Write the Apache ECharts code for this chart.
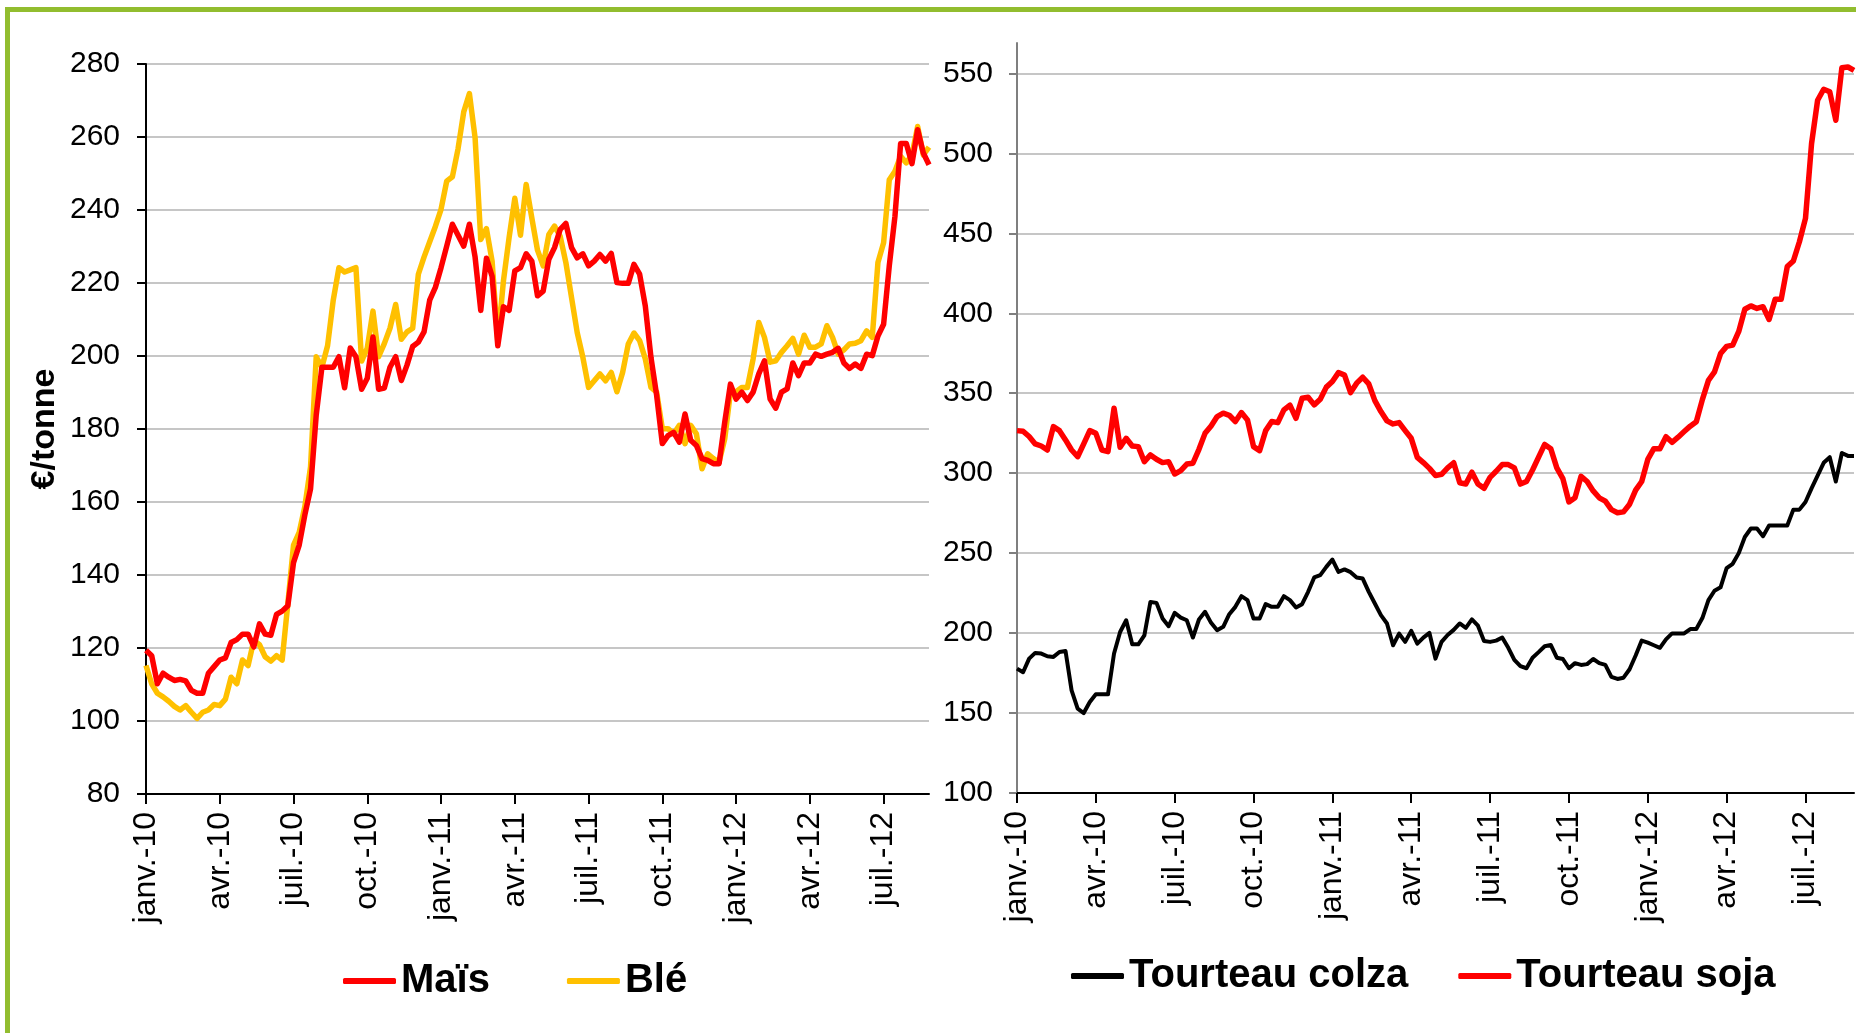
<!DOCTYPE html>
<html>
<head>
<meta charset="utf-8">
<script src="https://cdn.jsdelivr.net/npm/echarts@6/dist/echarts.min.js"></script>
<style>
  html, body { margin: 0; padding: 0; background: #fff; }
  #frame { position: absolute; left: 5px; top: 7px; width: 1900px; height: 1100px;
           border-top: 5px solid #92bd2f; border-left: 5px solid #92bd2f; }
  #main { position: absolute; left: 0; top: 0; width: 1856px; height: 1033px; }
</style>
</head>
<body>
<div id="frame"></div>
<div id="main"></div>
<script>
// libellés trimestriels de l'axe des dates (un tous les 13 points hebdo)
var quarterLabels = ['janv.-10', 'avr.-10', 'juil.-10', 'oct.-10',
                     'janv.-11', 'avr.-11', 'juil.-11', 'oct.-11',
                     'janv.-12', 'avr.-12', 'juil.-12'];

// prix hebdomadaires en €/tonne, janv. 2010 -> août 2012
var mais = [
  119.4, 117.9, 110.2, 113.1, 112, 111.1, 111.4, 111, 108.4, 107.6,
  107.6, 113.1, 114.9, 116.7, 117.3, 121.5, 122.3, 123.8, 123.8, 120.3,
  126.6, 123.8, 123.5, 129.2, 130.1, 131.6, 143.4, 148.2, 156.5, 163.6,
  183.8, 196.9, 196.9, 196.9, 199.8, 191.3, 202.2, 199.8, 190.9, 193.9,
  205.2, 190.9, 191.2, 196.9, 199.8, 193.3, 197.5, 202.6, 203.8, 206.6,
  215.3, 218.8, 224.2, 230.1, 236.1, 233.1, 230.1, 236.1, 227.1, 212.5,
  226.8, 221.8, 202.8, 213.5, 212.5, 223.3, 224.2, 228, 226, 216.5,
  217.8, 226.5, 229.7, 234.7, 236.3, 229.7, 226.9, 228, 224.7, 226,
  227.8, 226, 228.1, 220.1, 219.9, 219.9, 225.1, 222.4, 213.7, 199.6,
  189.2, 176, 178.2, 179.1, 176.4, 184.1, 176.9, 175.5, 171.9, 171.4,
  170.5, 170.5, 181.9, 192.3, 188.2, 190.1, 187.8, 190.1, 195.1, 198.7,
  188.2, 185.7, 190.1, 191, 198.1, 194.6, 198.1, 198.1, 200.5, 199.9,
  200.5, 201, 202.1, 198.1, 196.6, 197.8, 196.6, 200.5, 200.1, 205.5,
  208.7, 224.7, 238.3, 258.2, 258.2, 252.7, 262, 255.6, 252.4
];
var ble = [
  115.2, 110.2, 107.6, 106.6, 105.4, 104, 103, 104.2, 102.4, 100.7,
  102.4, 103, 104.5, 104.2, 106, 112, 110.2, 116.7, 115.2, 122.1,
  120.9, 117.6, 116.4, 117.9, 116.7, 132.2, 148.2, 151.7, 158.8, 169.6,
  199.8, 196.9, 202.8, 215.3, 224.2, 223, 223.6, 224.2, 198.6, 202.2,
  212.3, 199.8, 203.4, 207.6, 214.1, 204.6, 206.6, 207.6, 222.4, 227.1,
  231.3, 235.5, 240.2, 247.9, 249.1, 256.8, 266.9, 271.9, 259.8, 231.9,
  234.9, 226, 204, 220.6, 232.5, 243.2, 233.1, 247, 237.8, 229,
  224.7, 233.3, 235.6, 232.8, 225.6, 216, 206.4, 199.6, 191.4, 193.2,
  195.1, 193.2, 195.5, 190.2, 195.5, 203.3, 206.3, 204.2, 199.2, 191.4,
  190.1, 180.1, 180.1, 178.7, 181, 176, 181, 178.7, 169.1, 173.2,
  171.9, 170.9, 177.3, 190.1, 190.2, 191.4, 191.4, 199.2, 209.2, 205.1,
  198.3, 198.7, 201, 202.8, 204.8, 200.5, 205.7, 202.4, 202.4, 203.3,
  208.3, 205.1, 200.5, 201.7, 203.3, 203.5, 204.2, 206.9, 205.1, 225.6,
  231, 248.3, 250.6, 254.7, 252.9, 255.1, 262.9, 255.1, 257.2
];
var colza = [
  177.8, 175.5, 184, 187.6, 187.2, 185.5, 185.1, 188.2, 188.8, 164.2,
  152.7, 150, 156.9, 161.7, 161.7, 161.7, 187.2, 200.7, 208, 193,
  193, 198.6, 219.5, 218.9, 209.1, 204.3, 212.6, 209.7, 208, 197.2,
  208.5, 213.3, 206.4, 201.8, 203.9, 211.8, 216.4, 223.1, 220.6, 209.1,
  209.1, 218.1, 216.4, 216.4, 223.1, 220.6, 216, 218.1, 225.8, 234.8,
  236.2, 241.4, 246, 238.3, 239.8, 238.1, 234.8, 234.1, 225.8, 218.5,
  211.2, 206, 192.4, 199.7, 194.5, 201.4, 193.4, 197.2, 200.1, 184,
  194.5, 198.8, 202, 206, 203.3, 208.6, 204.6, 195, 194.5, 195.3,
  197.2, 190.8, 183.3, 179.3, 178, 184.6, 188.1, 191.8, 192.6, 184.6,
  183.8, 178, 181.2, 180.1, 180.6, 183.8, 181.2, 180.1, 172.6, 171.3,
  172.1, 177.4, 186, 195.3, 194, 192.4, 190.8, 196.1, 199.8, 199.8,
  199.8, 202.5, 202.5, 209.4, 220.6, 226.5, 228.6, 240.6, 243.3, 250,
  260.1, 265.4, 265.4, 260.6, 267.3, 267.3, 267.3, 267.3, 277.2, 277.2,
  282, 290.5, 298.5, 306.5, 310, 294.8, 312.6, 310.8, 310.8
];
var soja = [
  326.6, 326.2, 322.9, 318.3, 317, 314.5, 329.1, 326.6, 320.8, 314.5,
  310.3, 318.3, 326.6, 324.9, 314.5, 313.5, 340.6, 316.2, 321.8, 317,
  316.6, 307.2, 311.4, 308.7, 306.6, 307.2, 299.5, 301.6, 305.7, 306.2,
  314.9, 324.9, 329.5, 335.4, 337.5, 336.2, 332.3, 337.9, 333.3, 316.6,
  314.1, 326.6, 332.3, 331.6, 339.6, 342.5, 334.3, 346.9, 347.5, 342.7,
  346.2, 353.8, 357.3, 362.9, 361.3, 350.4, 356.3, 360, 355.8, 345.4,
  338.5, 332.7, 330.8, 331.6, 326.6, 321.8, 309.9, 306.6, 303, 298.5,
  299.3, 303.3, 306.5, 294, 293.2, 300.6, 293.2, 290.5, 297.4, 301.2,
  305.4, 305.4, 303.3, 293.2, 294.8, 302, 310, 318, 315.3, 303.3,
  296.6, 282, 284.6, 298, 294.8, 288.9, 284.6, 282.5, 277.2, 275.3,
  275.8, 280.6, 289.4, 294.8, 308.6, 315.3, 315.3, 322.8, 319.3, 322.5,
  326, 329.4, 332.1, 346, 358, 363.3, 374.8, 379.3, 380.1, 388.6,
  402.5, 404.6, 403, 404.1, 396.1, 408.7, 408.7, 429.2, 432.7, 444.7,
  459.3, 506, 533.2, 540.1, 538.5, 520.7, 553.5, 554, 551.9
];

// graduations de l'axe des tourteaux
var tourteauTicks = [100, 150, 200, 250, 300, 350, 400, 450, 500, 550];

// une date par semaine (lundi), même longueur que les séries
var weeks = [];
var d0 = new Date(2010, 0, 4);
for (var i = 0; i < mais.length; i++) {
    var d = new Date(d0.getTime() + i * 7 * 86400000);
    weeks.push(d.getFullYear() + '-' + (d.getMonth() + 1) + '-' + d.getDate());
}

var myChart = echarts.init(document.getElementById('main'), null, {renderer: 'canvas'});

var FONT = "'Liberation Sans', Arial, sans-serif";

function isQuarter(index) {
    return index % 13 === 0;
}

function dateAxis(gridIndex) {
    return {
        type: 'category',
        gridIndex: gridIndex,
        boundaryGap: false,
        data: weeks,
        axisLine: {lineStyle: {color: '#000', width: 2}},
        axisTick: {show: true, interval: isQuarter, length: 10, lineStyle: {color: '#000', width: 2}},
        axisLabel: {
            interval: isQuarter,
            rotate: 90,
            margin: 18,
            color: '#000',
            fontFamily: FONT,
            fontSize: 32,
            formatter: function (value, index) {
                return quarterLabels[index / 13] || '';
            }
        },
        splitLine: {show: false}
    };
}

function legendBox(names, left, top, gap) {
    return {
        data: names,
        left: left,
        top: top,
        icon: 'roundRect',
        itemWidth: 53,
        itemHeight: 6,
        itemGap: gap,
        textStyle: {fontFamily: FONT, fontWeight: 'bold', fontSize: 40, color: '#000'}
    };
}

function getOption() {
    var option = {
        animation: false,
        grid: [
            {left: 146, top: 64, width: 783, height: 730},
            {left: 1017, top: 43, width: 837, height: 750}
        ],
        xAxis: [dateAxis(0), dateAxis(1)],
        yAxis: [
            {
                type: 'value',
                gridIndex: 0,
                min: 80,
                max: 280,
                interval: 20,
                name: '€/tonne',
                nameLocation: 'middle',
                nameRotate: 90,
                nameGap: 84,
                nameTextStyle: {fontFamily: FONT, fontWeight: 'bold', fontSize: 34, color: '#000'},
                axisLine: {show: true, lineStyle: {color: '#000', width: 2}},
                axisTick: {show: true, length: 9, lineStyle: {color: '#000', width: 2}},
                axisLabel: {margin: 26, color: '#000', fontFamily: FONT, fontSize: 30},
                splitLine: {lineStyle: {color: '#c6c6c6', width: 2}}
            },
            {
                type: 'value',
                gridIndex: 1,
                min: 100,
                max: 569,
                axisLine: {show: true, lineStyle: {color: '#7f7f7f', width: 2}},
                axisTick: {show: true, length: 8, customValues: tourteauTicks, lineStyle: {color: '#7f7f7f', width: 2}},
                axisLabel: {margin: 24, color: '#000', fontFamily: FONT, fontSize: 30, customValues: tourteauTicks},
                splitLine: {lineStyle: {color: '#c6c6c6', width: 2}}
            }
        ],
        legend: [
            legendBox(['Maïs', 'Blé'], 338, 956, 77),
            legendBox(['Tourteau colza', 'Tourteau soja'], 1066, 951, 50)
        ],
        series: [
            {
                name: 'Maïs', type: 'line', xAxisIndex: 0, yAxisIndex: 0,
                data: mais, showSymbol: false, color: '#ff0000',
                lineStyle: {width: 5.5, join: 'round'}, z: 3
            },
            {
                name: 'Blé', type: 'line', xAxisIndex: 0, yAxisIndex: 0,
                data: ble, showSymbol: false, color: '#ffc000',
                lineStyle: {width: 5.5, join: 'round'}, z: 2
            },
            {
                name: 'Tourteau colza', type: 'line', xAxisIndex: 1, yAxisIndex: 1,
                data: colza, showSymbol: false, color: '#000000',
                lineStyle: {width: 4, join: 'round'}
            },
            {
                name: 'Tourteau soja', type: 'line', xAxisIndex: 1, yAxisIndex: 1,
                data: soja, showSymbol: false, color: '#ff0000',
                lineStyle: {width: 5.5, join: 'round'}
            }
        ]
    };
    return option;
}

myChart.setOption(getOption());
</script>
</body>
</html>
